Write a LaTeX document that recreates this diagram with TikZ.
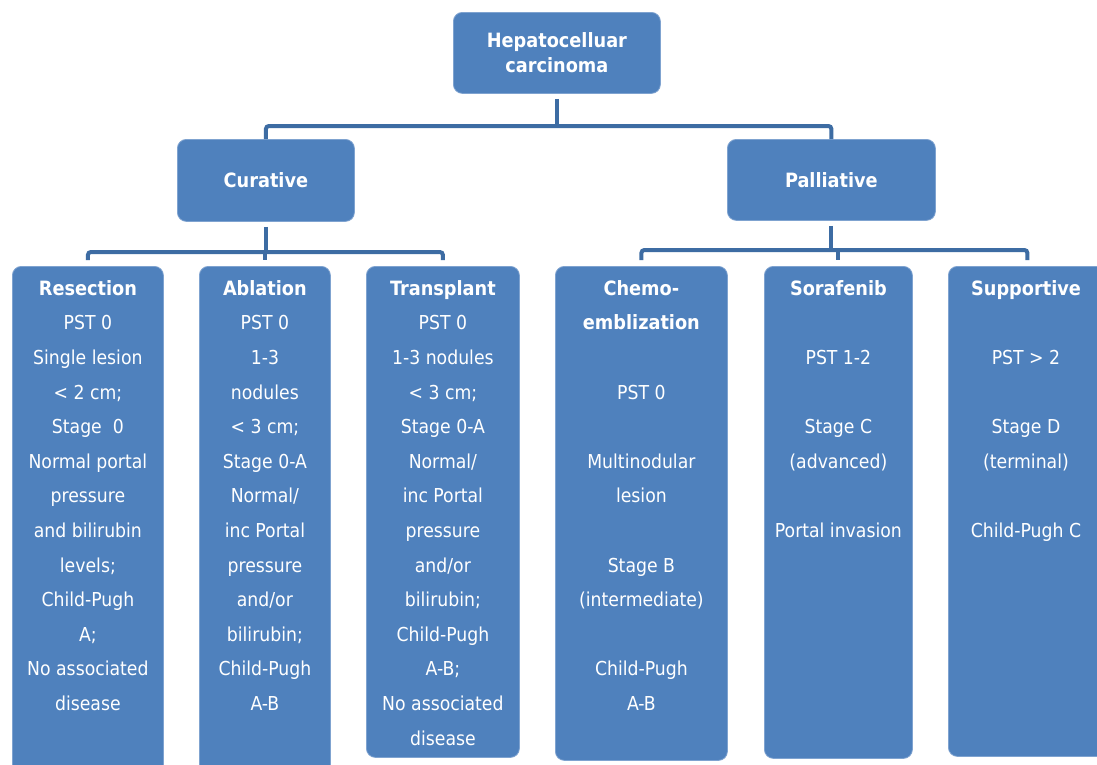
\documentclass[tikz,border=0pt]{standalone}
\usepackage{fontspec}
\setmainfont{DejaVu Sans Condensed}
\definecolor{boxblue}{HTML}{4F81BD}
\definecolor{linkblue}{HTML}{3D6CA3}
\definecolor{edgeblue}{HTML}{7FA3D0}
\newcommand\btitlefont{\bfseries\fontsize{19.7}{34.6}\selectfont}
\begin{document}
\begin{tikzpicture}[x=1pt,y=-1pt,
  box/.style={draw=edgeblue, line width=0.8pt, fill=boxblue, rounded corners=9pt, inner sep=0pt, anchor=north west},
  btext/.style={text=white, align=center, inner sep=0pt, anchor=north, font=\fontsize{19.2}{34.6}\selectfont},
  head/.style={text=white, font=\bfseries\fontsize{19.7}{25}\selectfont, align=center},
  link/.style={draw=linkblue, line width=4pt, rounded corners=3pt}]
\useasboundingbox (0,0) rectangle (1097,764);
\fill[white] (0,0) rectangle (1097,764);

% top levels
\node[box, head, minimum width=207pt, minimum height=81pt] (hcc) at (453,12) {Hepatocelluar\\carcinoma};
\node[box, head, minimum width=177pt, minimum height=82pt] (cur) at (177,139) {Curative};
\node[box, head, minimum width=208pt, minimum height=81pt] (pal) at (727,139) {Palliative};

% bottom boxes
\node[box, minimum width=151pt, minimum height=520pt] (res) at (12,266) {};
\node[box, minimum width=131pt, minimum height=520pt] (abl) at (199,266) {};
\node[box, minimum width=153pt, minimum height=491pt] (tra) at (366,266) {};
\node[box, minimum width=172pt, minimum height=494pt] (che) at (555,266) {};
\node[box, minimum width=148pt, minimum height=492pt] (sor) at (764,266) {};
\node[box, minimum width=158pt, minimum height=490pt] (sup) at (948,266) {};

% texts
\node[btext] (res-t) at (res.north |- 0,280) {\rule{0pt}{15pt}{\btitlefont Resection}\\PST 0\\Single lesion\\< 2 cm;\\Stage\ \ 0\\Normal portal\\pressure\\and bilirubin\\levels;\\Child-Pugh\\A;\\No associated\\disease};
\node[btext] (abl-t) at (abl.north |- 0,280) {\rule{0pt}{15pt}{\btitlefont Ablation}\\PST 0\\1-3\\nodules\\< 3 cm;\\Stage 0-A\\Normal/\\inc Portal\\pressure\\and/or\\bilirubin;\\Child-Pugh\\A-B};
\node[btext] (tra-t) at (tra.north |- 0,280) {\rule{0pt}{15pt}{\btitlefont Transplant}\\PST 0\\1-3 nodules\\< 3 cm;\\Stage 0-A\\Normal/\\inc Portal\\pressure\\and/or\\bilirubin;\\Child-Pugh\\A-B;\\No associated\\disease};
\node[btext] (che-t) at (che.north |- 0,280) {\rule{0pt}{15pt}{\btitlefont Chemo-}\\{\btitlefont emblization}\\\mbox{}\\PST 0\\\mbox{}\\Multinodular\\lesion\\\mbox{}\\Stage B\\(intermediate)\\\mbox{}\\Child-Pugh\\A-B};
\node[btext] (sor-t) at (sor.north |- 0,280) {\rule{0pt}{15pt}{\btitlefont Sorafenib}\\\mbox{}\\PST 1-2\\\mbox{}\\Stage C\\(advanced)\\\mbox{}\\Portal invasion};
\node[btext] (sup-t) at (1026,280) {\rule{0pt}{15pt}{\btitlefont Supportive}\\\mbox{}\\PST > 2\\\mbox{}\\Stage D\\(terminal)\\\mbox{}\\Child-Pugh C};

% connectors
\coordinate (b1) at (hcc.south |- 0,126);
\draw[link, shorten <=5pt] (hcc.south) -- (b1);
\draw[link] (cur.north) |- (b1) -| (pal.north);

\coordinate (b2) at (abl.north |- 0,252);
\draw[link, shorten <=5pt] (cur.south) -- (cur.south |- b2);
\draw[link, shorten <=6pt, shorten >=6pt] (res.north) |- (b2) -| (tra.north);
\draw[link, shorten >=6pt] (b2) -- (abl.north);

\coordinate (b3) at (sor.north |- 0,250);
\draw[link, shorten <=5pt] (pal.south) -- (pal.south |- b3);
\draw[link, shorten <=6pt, shorten >=6pt] (che.north) |- (b3) -| (sup.north);
\draw[link, shorten >=6pt] (b3) -- (sor.north);
\end{tikzpicture}
\end{document}
